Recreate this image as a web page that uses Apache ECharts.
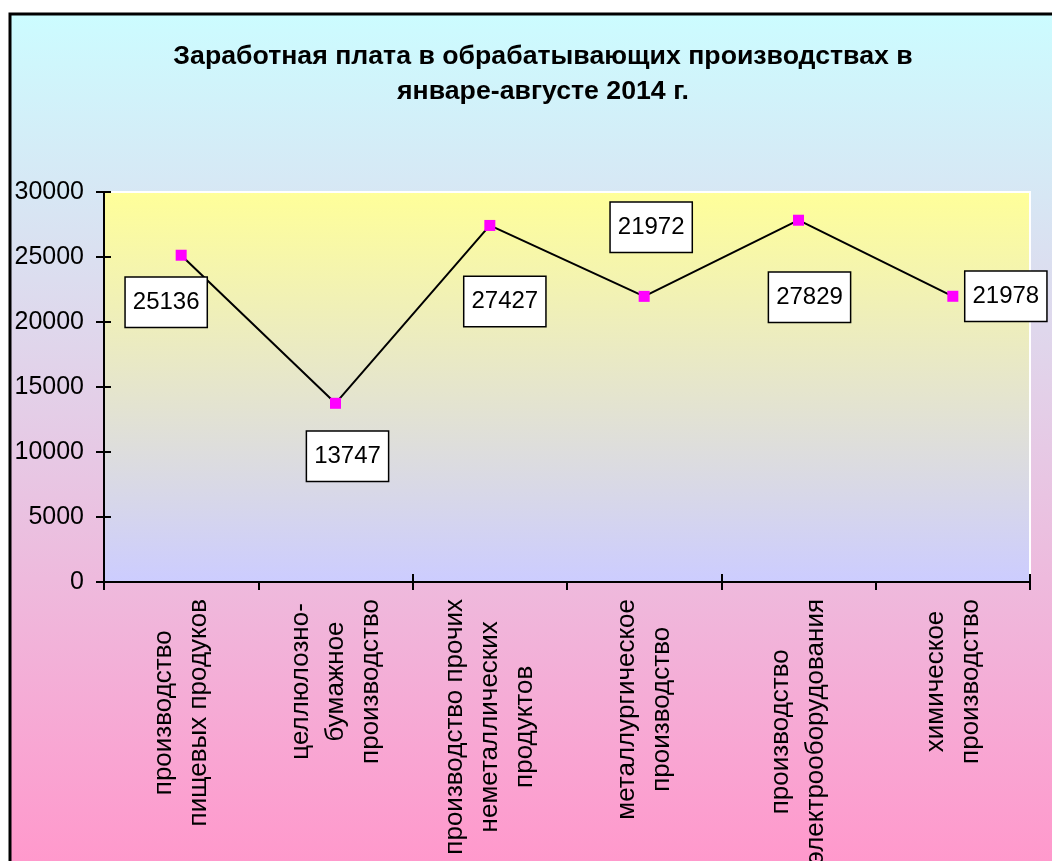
<!DOCTYPE html>
<html>
<head>
<meta charset="utf-8">
<script src="https://cdn.jsdelivr.net/npm/echarts@6/dist/echarts.min.js"></script>
<style>
html,body{margin:0;padding:0;background:#fff;}
#chart{width:1052px;height:861px;}
</style>
</head>
<body>
<div id="chart"></div>
<script>
const titleText = 'Заработная плата в обрабатывающих производствах в\nянваре-августе 2014 г.';
const categories = [
  'производство\nпищевых продуков',
  'целлюлозно-\nбумажное\nпроизводство',
  'производство прочих\nнеметаллических\nпродуктов',
  'металлургическое\nпроизводство',
  'производство\nэлектрооборудования',
  'химическое\nпроизводство'
];
const values = [25136, 13747, 27427, 21972, 27829, 21978];
const yTicks = {min: 0, max: 30000, interval: 5000};
// label box offsets (px) relative to each point
const labelOffsets = [[-15, 47], [12, 53], [15, 76], [7, -69], [11, 77], [53, 0]];

const chart = echarts.init(document.getElementById('chart'), null, {renderer: 'canvas'});
const font = 'Liberation Sans, Arial, Helvetica, sans-serif';

const seriesData = values.map((v, i) => ({
  value: v,
  label: {offset: labelOffsets[i]}
}));

const catLabelFormatter = (val) => val.split('\n').map(s => '{c|' + s + '}').join('\n');

chart.setOption({
  backgroundColor: '#ffffff',
  animation: false,
  graphic: [{
    type: 'rect',
    z: -100,
    silent: true,
    shape: {x: 10, y: 14, width: 1100, height: 900},
    style: {
      fill: {
        type: 'linear', x: 0, y: 14, x2: 0, y2: 861, global: true,
        colorStops: [{offset: 0, color: '#ccfcff'}, {offset: 1, color: '#ff99cc'}]
      },
      stroke: '#000', lineWidth: 3
    }
  }],
  title: {
    text: titleText,
    left: 538,
    top: 34,
    textAlign: 'center',
    textStyle: {fontFamily: font, fontSize: 26.7, fontWeight: 'bold', color: '#000', lineHeight: 35}
  },
  grid: {
    left: 104, right: 22, top: 192, bottom: 279,
    containLabel: false,
    outerBoundsMode: 'none',
    show: true,
    borderColor: '#ffffff', borderWidth: 2,
    backgroundColor: {
      type: 'linear', x: 0, y: 0, x2: 0, y2: 1,
      colorStops: [{offset: 0, color: '#ffff99'}, {offset: 1, color: '#ccccff'}]
    }
  },
  xAxis: [{
    type: 'category',
    data: categories,
    boundaryGap: true,
    axisLine: {show: true, lineStyle: {color: '#000', width: 2}},
    axisTick: {show: true, length: 8, lineStyle: {color: '#000', width: 2}},
    axisLabel: {
      interval: 0, rotate: 90, margin: 17,
      color: '#000', fontFamily: font, fontSize: 26, lineHeight: 35,
      formatter: catLabelFormatter,
      rich: {c: {align: 'center', fontFamily: font, fontSize: 26, lineHeight: 35, color: '#000'}}
    },
    splitLine: {show: false}
  }, {
    type: 'category',
    data: categories,
    position: 'bottom',
    offset: 0,
    boundaryGap: true,
    axisLine: {show: false},
    axisTick: {show: true, inside: true, length: 8, lineStyle: {color: '#000', width: 2}},
    axisLabel: {show: false},
    splitLine: {show: false}
  }],
  yAxis: [{
    type: 'value',
    min: yTicks.min, max: yTicks.max, interval: yTicks.interval,
    axisLine: {show: true, lineStyle: {color: '#000', width: 2}},
    axisTick: {show: true, length: 8, lineStyle: {color: '#000', width: 2}},
    axisLabel: {color: '#000', fontFamily: font, fontSize: 25, margin: 20, formatter: (v) => String(v)},
    splitLine: {show: false}
  }, {
    type: 'value',
    position: 'left',
    offset: 0,
    min: yTicks.min, max: yTicks.max, interval: yTicks.interval,
    axisLine: {show: false},
    axisTick: {show: true, inside: true, length: 7, lineStyle: {color: '#000', width: 2}},
    axisLabel: {show: false},
    splitLine: {show: false}
  }],
  series: [{
    type: 'line',
    xAxisIndex: 0,
    yAxisIndex: 0,
    data: seriesData,
    symbol: 'rect',
    symbolSize: 11,
    itemStyle: {color: '#ff00ff'},
    lineStyle: {color: '#000', width: 2},
    label: {
      show: true,
      position: 'inside',
      color: '#000',
      fontFamily: font,
      fontSize: 24,
      lineHeight: 27,
      backgroundColor: '#ffffff',
      borderColor: '#000',
      borderWidth: 1.5,
      padding: [11, 7, 11, 7]
    }
  }]
});
</script>
</body>
</html>
